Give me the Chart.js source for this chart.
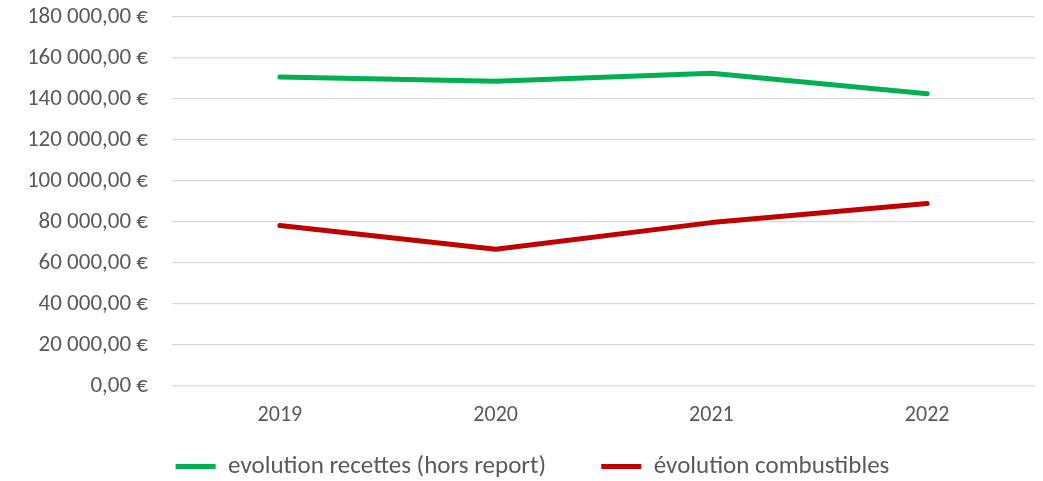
<!DOCTYPE html>
<html><head><meta charset="utf-8">
<script src="https://cdn.jsdelivr.net/npm/chart.js@4/dist/chart.umd.min.js"></script>
<style>html,body{margin:0;padding:0;background:#fff}#wrap{width:1043px;height:481px}</style>
</head><body><div id="wrap"><canvas id="c" width="1043" height="481"></canvas></div>
<script>
const categories = ["2019", "2020", "2021", "2022"];
const recettes = [150700, 148700, 152600, 142600];
const combustibles = [78300, 66700, 79700, 89000];
const seriesNames = ["evolution recettes (hors report)", "évolution combustibles"];

const fontFamily = "Carlito, Calibri, Lato, 'Open Sans', sans-serif";
const fmt = v => {
  const s = Math.round(v).toString().replace(/\B(?=(\d{3})+(?!\d))/g, " ");
  return s + ",00 €";
};

const chart = new Chart(document.getElementById('c'), {
  type: 'line',
  data: {
    labels: categories,
    datasets: [
      {label: seriesNames[0], data: recettes, borderColor: '#00B050', backgroundColor: '#00B050', borderWidth: 5, pointRadius: 0, tension: 0, borderCapStyle: 'round', borderJoinStyle: 'round'},
      {label: seriesNames[1], data: combustibles, borderColor: '#C00000', backgroundColor: '#C00000', borderWidth: 5, pointRadius: 0, tension: 0, borderCapStyle: 'round', borderJoinStyle: 'round'}
    ]
  },
  options: {
    responsive: false,
    animation: false,
    devicePixelRatio: 1,
    layout: {padding: {top: 0, right: 8, left: 30, bottom: -8}},
    plugins: {
      tooltip: {enabled: false},
      legend: {
        position: 'bottom',
        labels: {
          usePointStyle: true,
          pointStyle: 'line',
          pointStyleWidth: 40,
          boxHeight: 5,
          padding: 10,
          color: '#595959',
          font: {family: fontFamily, size: 25},
          generateLabels: c => {
            const items = Chart.defaults.plugins.legend.labels.generateLabels(c);
            items[0].text += ' '.repeat(8);
            return items;
          }
        }
      }
    },
    scales: {
      x: {
        offset: true,
        grid: {display: false, drawTicks: false},
        border: {display: false},
        ticks: {color: '#595959', font: {family: fontFamily, size: 22}, padding: 16},
        afterFit: s => { s.height = 58; }
      },
      y: {
        min: 0, max: 180000,
        grid: {color: '#D9D9D9', lineWidth: 1.3, drawTicks: false},
        border: {display: false},
        ticks: {stepSize: 20000, color: '#595959', font: {family: fontFamily, size: 23}, padding: 24, callback: v => fmt(v)},
        afterFit: s => { s.width = 142; s.paddingTop = 17; s.paddingBottom = 0; }
      }
    }
  }
});
</script></body></html>
